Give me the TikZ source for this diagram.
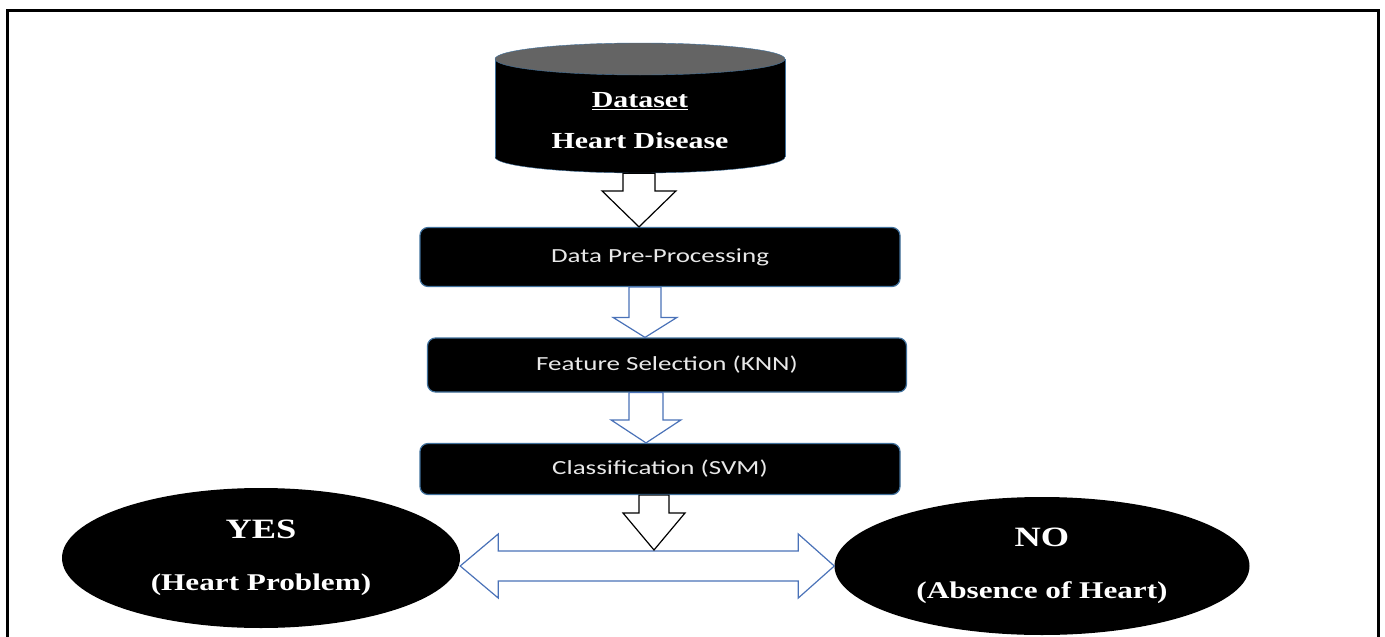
\documentclass[tikz,border=0pt]{standalone}
\usepackage{fontspec}
\usetikzlibrary{shapes.geometric,calc}
\newfontfamily\serifb[FakeStretch=1.3]{Liberation Serif}
\newfontfamily\boxfont[FakeStretch=1.35]{Carlito}
\definecolor{cylgray}{RGB}{100,100,100}
\definecolor{edgeblue}{HTML}{41719C}
\definecolor{arrowblue}{HTML}{4A72B8}
\definecolor{boxtext}{RGB}{232,232,232}
% hollow block arrow: style, from, to, axis x, half shaft, half head, head length
\newcommand{\hollowarrow}[7]{%
	\draw[#1] let \p1=(#2), \p2=(#3) in
	(#4pt-#5pt,\y1) -- (#4pt-#5pt,\y2+#7pt) -- (#4pt-#6pt,\y2+#7pt) -- (#4pt,\y2)
	-- (#4pt+#6pt,\y2+#7pt) -- (#4pt+#5pt,\y2+#7pt) -- (#4pt+#5pt,\y1) -- cycle;}
\begin{document}
\begin{tikzpicture}[x=1pt,y=-1pt,
	procbox/.style={draw=edgeblue, line width=1.2pt, fill=black, rounded corners=8pt, text=boxtext, font=\boxfont\fontsize{20}{24}\selectfont, inner sep=0pt},
	endnode/.style={ellipse, fill=black, text=white, align=center, inner sep=0pt, font=\serifb\bfseries\fontsize{24}{28}\selectfont},
	bluearrow/.style={draw=arrowblue, fill=white, line width=1.2pt},
	blackarrow/.style={draw=black, fill=white, line width=1.2pt}]
	\useasboundingbox (0,0) rectangle (1385,637);
	\draw[line width=3pt] (7,645) -- (7,10) -- (1378,10) -- (1378,645);
	% dataset cylinder
	\filldraw[fill=black, draw=edgeblue] (640,157) ellipse [x radius=145, y radius=16];
	\fill[black] (495,59) rectangle (785,157);
	\draw[edgeblue] (495,59) -- (495,157) (785,59) -- (785,157);
	\filldraw[fill=cylgray, draw=edgeblue] (640,59) ellipse [x radius=145, y radius=16];
	\node[minimum width=290, minimum height=104, align=center, text=white, font=\serifb\bfseries\fontsize{23}{28}\selectfont] (ds) at (640,121) {\underline{Dataset}\\[13pt]Heart Disease};
	% steps
	\node[procbox, minimum width=480, minimum height=59] (pre) at (660,257) {Data Pre-Processing};
	\node[procbox, minimum width=479, minimum height=54] (feat) at (667,365) {Feature Selection (KNN)};
	\node[procbox, minimum width=480, minimum height=51] (cls) at (660,469) {Classification (SVM)};
	% outcomes
	\node[endnode, minimum width=398, minimum height=140] (yes) at (261,558) {{\fontsize{28}{30}\selectfont YES}\\[24pt](Heart Problem)};
	\node[endnode, minimum width=415, minimum height=138] (no) at (1042,566) {{\fontsize{28}{30}\selectfont NO}\\[24pt](Absence of Heart)};
	\coordinate (split) at (654,550);
	\hollowarrow{blackarrow}{ds.south}{pre.north}{639}{16}{37}{36}
	\hollowarrow{bluearrow}{pre.south}{feat.north}{645}{16}{32}{20}
	\hollowarrow{bluearrow}{feat.south}{cls.north}{646}{17}{35}{23}
	\draw[bluearrow] let \p1=(yes.east), \p2=(no.west) in
	(\x1,\y2) -- (\x1+38pt,\y2+32pt) -- (\x1+38pt,\y2+15pt) -- (\x2-36pt,\y2+15pt) -- (\x2-36pt,\y2+32pt) -- (\x2,\y2)
	-- (\x2-36pt,\y2-32pt) -- (\x2-36pt,\y2-15pt) -- (\x1+38pt,\y2-15pt) -- (\x1+38pt,\y2-32pt) -- cycle;
	\hollowarrow{blackarrow}{cls.south}{split}{654}{15}{31}{37}
\end{tikzpicture}
\end{document}
